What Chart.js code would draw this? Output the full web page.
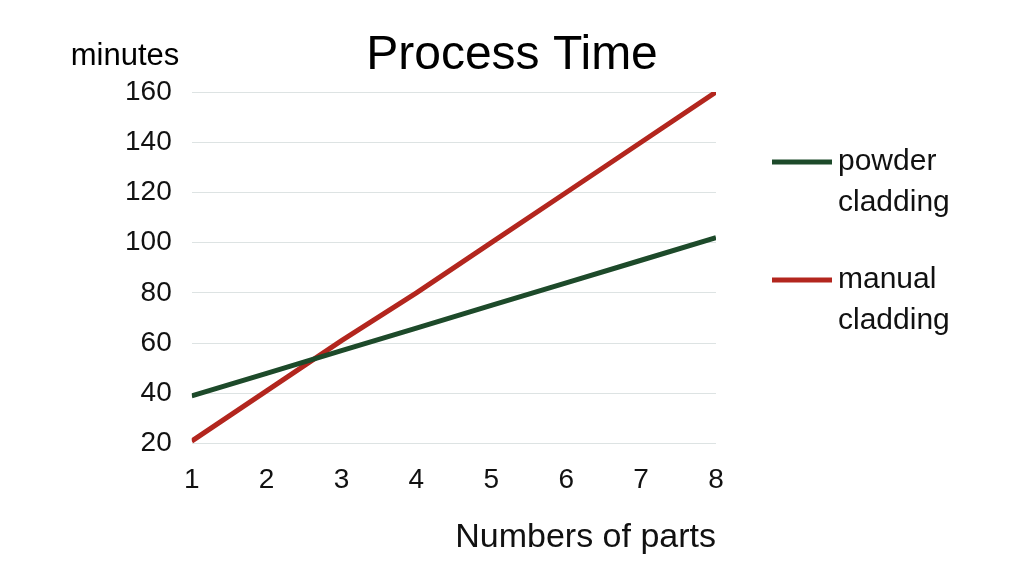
<!DOCTYPE html>
<html><head><meta charset="utf-8">
<script src="https://cdn.jsdelivr.net/npm/chart.js@4"></script>
<style>html,body{margin:0;background:#fff}#w{width:1024px;height:576px}</style>
</head><body><div id="w"><canvas id="c"></canvas></div>
<script>
const parts=[1,2,3,4,5,6,7,8];
const powder=[39,48,57,66,75,84,93,102];
const manual=[21,41,61,80,100,120,140,160];
const yTicks=[20,40,60,80,100,120,140,160];
const FONT='"Liberation Sans", Arial, sans-serif';
const deco={id:'deco',afterDraw(ch){
  const c=ch.ctx,a=ch.chartArea;c.save();
  c.fillStyle='#000';c.textBaseline='middle';
  c.font='48px '+FONT;c.textAlign='center';c.fillText('Process Time',512,56);
  c.font='31px '+FONT;c.fillText('minutes',125,56);
  const items=[['powder','cladding'],['manual','cladding']];
  ch.data.datasets.forEach((d,i)=>{
    const y=162+i*118;
    c.strokeStyle=d.borderColor;c.lineWidth=5;
    c.beginPath();c.moveTo(772,y);c.lineTo(832,y);c.stroke();
    c.textAlign='left';c.font='30px '+FONT;c.fillStyle='#111';
    c.fillText(items[i][0],838,y);c.fillText(items[i][1],838,y+41);
  });
  c.restore();}};
new Chart(document.getElementById('c'),{
  type:'line',
  data:{datasets:[
    {label:'powder cladding',data:parts.map((x,i)=>({x,y:powder[i]})),borderColor:'#1d4a2a',borderWidth:5,pointRadius:0,tension:0},
    {label:'manual cladding',data:parts.map((x,i)=>({x,y:manual[i]})),borderColor:'#b3261e',borderWidth:5,pointRadius:0,tension:0}]},
  options:{responsive:true,maintainAspectRatio:false,animation:false,
    layout:{padding:{top:92,right:308,left:105,bottom:14}},
    plugins:{legend:{display:false},tooltip:{enabled:false}},
    scales:{
      x:{type:'linear',min:1,max:8,grid:{display:false},border:{display:false},
        ticks:{stepSize:1,color:'#111',font:{size:28,family:FONT},padding:12},
        title:{display:true,text:'Numbers of parts',align:'end',color:'#111',font:{size:34,family:FONT},padding:{top:8}}},
      y:{min:20,max:160,grid:{color:'#dde3e3',drawTicks:false},border:{display:false},
        afterBuildTicks(s){s.ticks=yTicks.map(v=>({value:v}));},
        ticks:{color:'#111',font:{size:28,family:FONT},padding:20}}}},
  plugins:[deco]});
</script></body></html>
